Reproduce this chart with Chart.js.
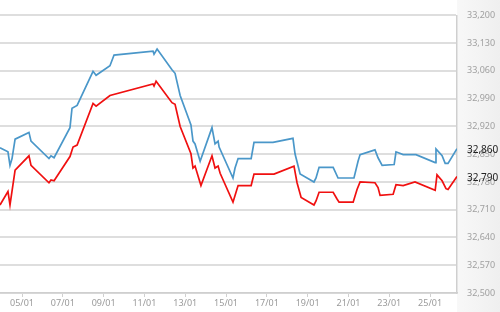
<!DOCTYPE html>
<html>
<head>
<meta charset="utf-8">
<script src="https://cdn.jsdelivr.net/npm/chart.js@4"></script>
<style>
  html, body { margin: 0; padding: 0; background: #fff; }
  #wrap { width: 500px; height: 312px; position: relative; }
</style>
</head>
<body>
<div id="wrap"><canvas id="chart"></canvas></div>
<script>
// day of January (fractional) and rate
var blueDays = [3.92, 4.31, 4.41, 4.51, 4.66, 5.34, 5.44, 6.32, 6.42, 6.57, 7.35, 7.45, 7.70, 8.48, 8.63, 9.31, 9.51, 11.42, 11.47, 11.62, 12.35, 12.50, 12.75, 13.28, 13.38, 13.48, 13.73, 14.31, 14.46, 14.61, 14.66, 15.34, 15.44, 15.59, 16.23, 16.37, 17.30, 18.28, 18.38, 18.63, 19.31, 19.41, 19.56, 20.25, 20.49, 21.27, 21.47, 21.57, 22.30, 22.45, 22.65, 23.24, 23.33, 23.68, 24.31, 25.25, 25.29, 25.59, 25.74, 25.88, 26.32];
var blueValues = [32866, 32856, 32822, 32839, 32888, 32905, 32883, 32839, 32846, 32841, 32917, 32966, 32973, 33059, 33049, 33073, 33100, 33110, 33102, 33115, 33063, 33054, 32998, 32924, 32883, 32876, 32832, 32917, 32876, 32883, 32868, 32790, 32815, 32839, 32839, 32880, 32880, 32890, 32851, 32800, 32780, 32790, 32817, 32817, 32790, 32790, 32832, 32849, 32861, 32841, 32822, 32824, 32856, 32849, 32849, 32829, 32863, 32846, 32827, 32827, 32864];

var redDays = [3.92, 4.31, 4.41, 4.66, 5.34, 5.44, 6.32, 6.42, 6.57, 7.35, 7.50, 7.70, 8.48, 8.63, 9.31, 11.42, 11.47, 11.57, 12.35, 12.50, 12.75, 13.28, 13.38, 13.48, 13.77, 14.31, 14.46, 14.61, 14.71, 15.34, 15.44, 15.59, 16.23, 16.37, 17.35, 18.33, 18.48, 18.68, 19.31, 19.41, 19.56, 20.25, 20.44, 20.54, 21.23, 21.42, 21.57, 22.30, 22.45, 22.55, 23.19, 23.33, 23.68, 24.26, 25.25, 25.34, 25.59, 25.78, 25.88, 26.32];
var redValues = [32722, 32756, 32722, 32810, 32846, 32822, 32778, 32785, 32783, 32844, 32868, 32873, 32978, 32971, 32998, 33027, 33022, 33034, 32980, 32976, 32920, 32851, 32815, 32820, 32771, 32846, 32815, 32820, 32802, 32729, 32746, 32771, 32771, 32800, 32800, 32820, 32778, 32741, 32722, 32732, 32754, 32754, 32737, 32729, 32729, 32761, 32780, 32778, 32766, 32746, 32749, 32773, 32771, 32780, 32759, 32798, 32783, 32763, 32761, 32794];

var tickDays = [5, 7, 9, 11, 13, 15, 17, 19, 21, 23, 25];
var tickLabels = ['05/01', '07/01', '09/01', '11/01', '13/01', '15/01', '17/01', '19/01', '21/01', '23/01', '25/01'];

var lastLabels = ['32,860', '32,790'];
var lastLabelValues = [32860, 32790];

function toPoints(xs, ys) {
  return xs.map((x, i) => ({ x: x, y: ys[i] }));
}

const background = {
  id: 'background',
  beforeDraw(chart) {
    const ctx = chart.ctx, a = chart.chartArea;
    ctx.save();
    ctx.fillStyle = '#ffffff';
    ctx.fillRect(0, 0, chart.width, chart.height);
    const g = ctx.createLinearGradient(a.right, 0, chart.width, 0);
    g.addColorStop(0, '#f8f8f8');
    g.addColorStop(1, '#efefef');
    ctx.fillStyle = g;
    ctx.fillRect(a.right, 0, chart.width - a.right, chart.height);
    ctx.restore();
  }
};

const lastValues = {
  id: 'lastValues',
  afterDraw(chart) {
    const ctx = chart.ctx, y = chart.scales.y;
    ctx.save();
    ctx.font = '10px "Noto Sans"';
    ctx.fillStyle = '#222';
    ctx.textBaseline = 'middle';
    lastLabels.forEach((t, i) => {
      ctx.fillText(t, chart.chartArea.right + 10, y.getPixelForValue(lastLabelValues[i]));
    });
    ctx.restore();
  }
};

new Chart('chart', {
  type: 'line',
  plugins: [background, lastValues],
  data: {
    datasets: [
      {
        label: 'blue',
        data: toPoints(blueDays, blueValues),
        borderColor: '#4a97c9',
        borderWidth: 1.7,
        pointRadius: 0,
        tension: 0,
      },
      {
        label: 'red',
        data: toPoints(redDays, redValues),
        borderColor: '#f01010',
        borderWidth: 1.7,
        pointRadius: 0,
        tension: 0,
      },
    ],
  },
  options: {
    animation: false,
    responsive: true,
    maintainAspectRatio: false,
    layout: { padding: { top: 7, left: 0, right: 0, bottom: 0 } },
    plugins: {
      legend: { display: false },
      tooltip: { enabled: false },
    },
    scales: {
      x: {
        type: 'linear',
        min: 3.92,
        max: 26.32,
        afterBuildTicks: (s) => { s.ticks = tickDays.map((v) => ({ value: v })); },
        afterFit: (s) => { s.height = 19; },
        grid: { drawOnChartArea: false, tickLength: 4, color: '#d0d0d0' },
        border: { color: '#cfcfcf', width: 1.5 },
        ticks: {
          autoSkip: false,
          maxRotation: 0,
          padding: 1,
          color: '#9a9a9a',
          font: { family: 'Noto Sans', size: 9 },
          callback: (v) => tickLabels[tickDays.indexOf(v)],
        },
      },
      y: {
        position: 'right',
        min: 32500,
        max: 33200,
        afterBuildTicks: (s) => {
          const t = [];
          for (let v = 32500; v <= 33200; v += 70) t.push({ value: v });
          s.ticks = t;
        },
        afterFit: (s) => { s.width = 43; },
        grid: { color: '#dedede', lineWidth: 2, drawTicks: false },
        border: { color: '#cfcfcf', width: 1.5 },
        ticks: {
          padding: 10,
          color: '#a0a0a0',
          font: { family: 'Noto Sans', size: 9 },
          callback: (v) => v.toLocaleString('en-US'),
        },
      },
    },
  },
});
</script>
</body>
</html>
